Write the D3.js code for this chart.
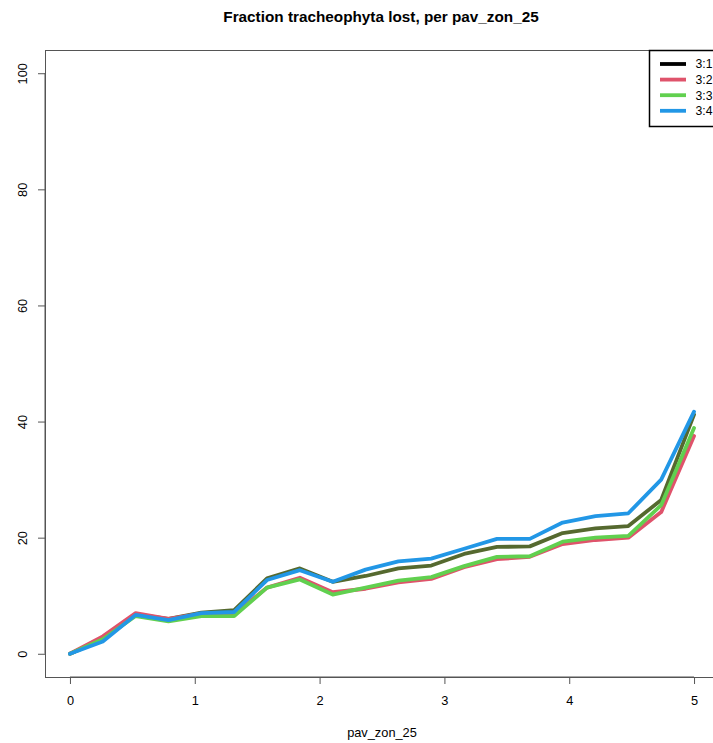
<!DOCTYPE html>
<html>
<head>
<meta charset="utf-8">
<script src="https://cdn.jsdelivr.net/npm/d3@7"></script>
<style>
  html, body { margin: 0; padding: 0; background: #fff; }
  svg { display: block; font-family: "Liberation Sans", Arial, sans-serif; }
</style>
</head>
<body>
<svg id="chart" width="713" height="743"></svg>
<script>
// Zone values (pav_zon_25), 20 evenly spaced steps from 0 to 5
const zoneSteps = d3.range(20).map(i => 5 * i / 19);

const seriesNames = ["3:1", "3:2", "3:3", "3:4"];
const legendColors = ["#000000", "#DF536B", "#61D04F", "#2297E6"];
const lineColors = ["#55692f", "#DF536B", "#61D04F", "#2297E6"];

// Fraction lost (%) for each series
const lost31 = [0, 2.5, 6.8, 6.0, 7.1, 7.5, 13.0, 14.7, 12.4, 13.4, 14.7, 15.2, 17.2, 18.4, 18.5, 20.8, 21.6, 22.0, 26.5, 41.2];
const lost32 = [0, 3.0, 7.0, 6.0, 6.9, 6.8, 11.4, 13.1, 10.6, 11.2, 12.3, 12.9, 14.9, 16.3, 16.7, 18.9, 19.6, 20.0, 24.4, 37.5];
const lost33 = [0, 2.5, 6.5, 5.6, 6.5, 6.5, 11.4, 12.8, 10.2, 11.4, 12.6, 13.2, 15.1, 16.7, 16.8, 19.3, 20.0, 20.3, 25.6, 38.9];
const lost34 = [0, 2.1, 6.7, 5.8, 7.0, 7.2, 12.7, 14.4, 12.4, 14.5, 15.9, 16.4, 18.1, 19.8, 19.8, 22.6, 23.7, 24.2, 30.0, 41.7];
const seriesValues = [lost31, lost32, lost33, lost34];

const xTicks = [0, 1, 2, 3, 4, 5];
const yTicks = [0, 20, 40, 60, 80, 100];

const svg = d3.select("#chart");

// Plot region (R-style 4% padding on each axis)
const plotL = 45, plotR = 719, plotT = 50, plotB = 677;
const x = d3.scaleLinear().domain([-0.2, 5.2]).range([plotL, plotR]);
const y = d3.scaleLinear().domain([-4, 104]).range([plotB, plotT]);

// Title
svg.append("text")
  .attr("x", 381).attr("y", 21.5)
  .attr("text-anchor", "middle")
  .attr("font-size", 15.3).attr("font-weight", "bold")
  .attr("fill", "#000")
  .text("Fraction tracheophyta lost, per pav_zon_25");

// Series lines
const line = d3.line()
  .x((d, i) => x(zoneSteps[i]))
  .y(d => y(d));

const lines = svg.append("g").attr("fill", "none")
  .attr("stroke-linejoin", "round").attr("stroke-linecap", "round");
seriesValues.forEach((vals, k) => {
  lines.append("path")
    .attr("d", line(vals))
    .attr("stroke", lineColors[k])
    .attr("stroke-width", 3.8);
});

// Axes
const xAxis = d3.axisBottom(x).tickValues(xTicks).tickFormat(d3.format("d")).tickSize(7).tickPadding(12);
const gx = svg.append("g").attr("transform", `translate(0,${plotB})`).call(xAxis);
gx.select(".domain").remove();
gx.append("line").attr("x1", x(0)).attr("x2", x(5)).attr("stroke", "#555");
gx.selectAll(".tick line").attr("stroke", "#555");
gx.selectAll(".tick text").attr("font-size", 12.8).attr("fill", "#000")
  .attr("font-family", "Liberation Sans, Arial, sans-serif");

const yAxis = d3.axisLeft(y).tickValues(yTicks).tickFormat(d3.format("d")).tickSize(7).tickPadding(0);
const gy = svg.append("g").attr("transform", `translate(${plotL},0)`).call(yAxis);
gy.select(".domain").remove();
gy.append("line").attr("y1", y(0)).attr("y2", y(100)).attr("stroke", "#555");
gy.selectAll(".tick line").attr("stroke", "#555");
gy.selectAll(".tick text")
  .attr("font-size", 12.8).attr("fill", "#000")
  .attr("font-family", "Liberation Sans, Arial, sans-serif")
  .attr("x", null).attr("dy", null)
  .attr("text-anchor", "middle")
  .attr("transform", "translate(-22,0) rotate(-90)")
  .attr("y", 0).attr("dy", "0.35em");

// Plot box
svg.append("rect")
  .attr("x", plotL + 0.5).attr("y", plotT + 0.5)
  .attr("width", plotR - plotL).attr("height", plotB - plotT)
  .attr("fill", "none").attr("stroke", "#555");

// X axis title
svg.append("text")
  .attr("x", (plotL + plotR) / 2).attr("y", 737)
  .attr("text-anchor", "middle").attr("font-size", 12.8).attr("fill", "#000")
  .text("pav_zon_25");

// Legend
const lg = svg.append("g");
lg.append("rect")
  .attr("x", 649.5).attr("y", 50.5).attr("width", 90).attr("height", 76)
  .attr("fill", "#fff").attr("stroke", "#000").attr("stroke-width", 1.5);
seriesNames.forEach((name, k) => {
  const cy = 64 + k * 15.6;
  lg.append("line").attr("x1", 660).attr("x2", 686).attr("y1", cy).attr("y2", cy)
    .attr("stroke", legendColors[k]).attr("stroke-width", 3.8);
  lg.append("text").attr("x", 695.5).attr("y", cy).attr("dy", "0.36em")
    .attr("font-size", 12.2).attr("fill", "#000").text(name);
});
</script>
</body>
</html>
